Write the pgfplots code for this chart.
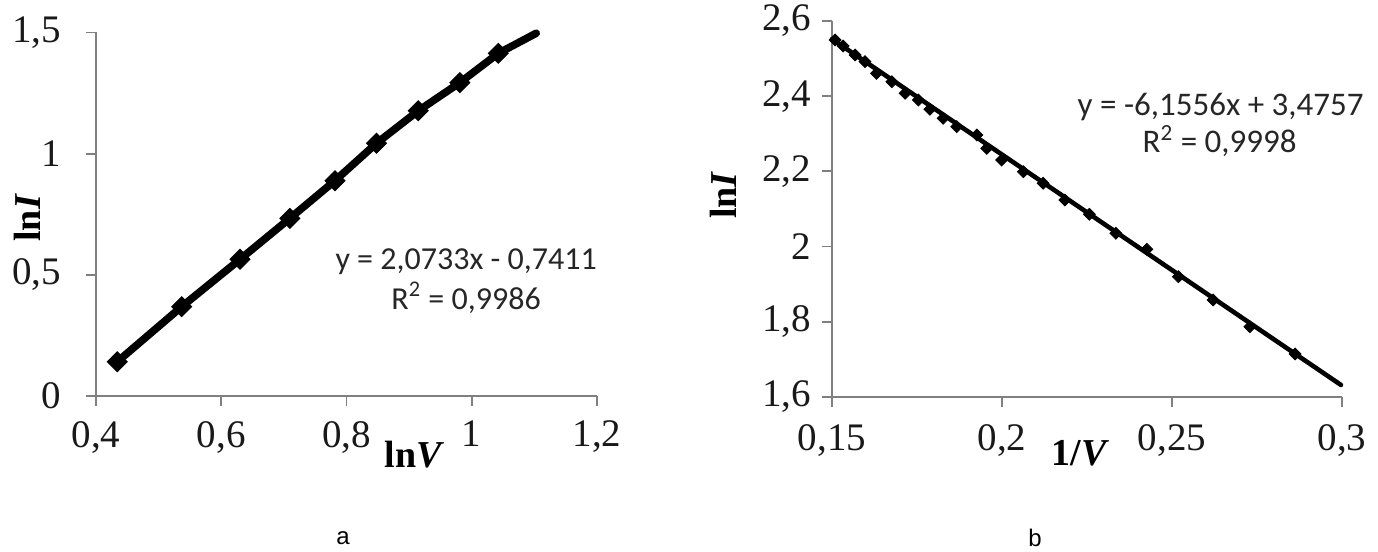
\documentclass[border=0pt]{standalone}
\usepackage{fontspec}
\setmainfont{Liberation Serif}
\newfontfamily\eqfont{Carlito}
\newfontfamily\capfont{Liberation Sans}
\usepackage{pgfplots}
\pgfplotsset{compat=1.18}
\begin{document}
\begin{tikzpicture}
\useasboundingbox (0,0) rectangle (689pt,276pt);
\pgfplotsset{
  myax/.style={
    scale only axis, axis lines*=left,
    axis line style={draw=gray, line width=1pt},
    tick align=outside, major tick length=5pt,
    tick style={draw=gray, line width=0.9pt},
    /pgf/number format/assume math mode=true,
    tick label style={font=\fontsize{19.5}{22}\selectfont, text=black!90},
    label style={font=\fontsize{19}{22}\selectfont\bfseries},
    clip=false,
  }
}
% ---------- panel a ----------
\begin{axis}[myax,
  at={(48pt,78pt)}, anchor=south west,
  width=250.5pt, height=181.75pt,
  xmin=0.4, xmax=1.2, ymin=0, ymax=1.5,
  xtick={0.4,0.6,0.8,1,1.2}, xticklabels={{0,4},{0,6},{0,8},{1},{1,2}},
  ytick={0,0.5,1,1.5}, yticklabels={{0},{0,5},{1},{1,5}},
  xticklabel style={yshift=-4pt},
  yticklabel style={xshift=-9pt},
  xlabel={ln\textit{V}}, ylabel={ln\textit{I}},
  x label style={at={(axis description cs:0.636,0)}, anchor=center, yshift=-29.5pt},
  y label style={at={(axis description cs:-0.1377,0.49)}, anchor=center},
]
\addplot[black, line width=3.8pt, mark=square*, mark size=3.5pt,
  mark options={rotate=45, fill=black, draw=black, line width=0.5pt}]
  coordinates {(0.434,0.1415) (0.5368,0.3685) (0.630,0.564) (0.7095,0.733)
   (0.7816,0.8885) (0.848,1.043) (0.9147,1.177) (0.981,1.293) (1.0424,1.414)};
\addplot[black, line width=3.8pt, line cap=round] coordinates {(1.0424,1.414) (1.103,1.497)};
\node[font=\eqfont\fontsize{16}{18}\selectfont, text=black!85] at (axis cs:0.991,0.553) {y = 2,0733x - 0,7411};
\node[font=\eqfont\fontsize{16}{18}\selectfont, text=black!85] at (axis cs:0.991,0.406) {R\textsuperscript{2} = 0,9986};
\end{axis}
% ---------- panel b ----------
\begin{axis}[myax,
  at={(416pt,77.5pt)}, anchor=south west,
  width=255pt, height=188pt,
  xmin=0.15, xmax=0.3, ymin=1.6, ymax=2.6,
  xtick={0.15,0.2,0.25,0.3}, xticklabels={{0,15},{0,2},{0,25},{0,3}},
  ytick={1.6,1.8,2,2.2,2.4,2.6}, yticklabels={{1,6},{1,8},{2},{2,2},{2,4},{2,6}},
  xticklabel style={yshift=-5pt},
  yticklabel style={xshift=-2pt},
  xlabel={1/\textit{V}}, ylabel={ln\textit{I}},
  x label style={at={(axis description cs:0.487,0)}, anchor=center, yshift=-28pt},
  y label style={at={(axis description cs:-0.2137,0.537)}, anchor=center},
]
\addplot[only marks, mark=square*, mark size=2.1pt,
  mark options={rotate=45, fill=black, draw=black}]
  coordinates {(0.1509,2.5495) (0.1533,2.5335) (0.1568,2.5096) (0.1597,2.4918)
   (0.1631,2.4609) (0.1676,2.4386) (0.1715,2.4077) (0.1754,2.3899)
   (0.1788,2.3652) (0.1827,2.3412) (0.1867,2.3189) (0.1926,2.2968)
   (0.1955,2.2614) (0.1999,2.2303) (0.2063,2.1992) (0.2121,2.1684)
   (0.2185,2.1239) (0.2257,2.0859) (0.2335,2.0354) (0.2426,1.9928)
   (0.2519,1.9199) (0.2621,1.8580) (0.2729,1.7870) (0.2862,1.7144)};
\addplot[black, line width=2.3pt, line cap=round] coordinates {(0.15,2.552) (0.2997,1.632)};
\node[font=\eqfont\fontsize{16.5}{18}\selectfont, text=black!85] at (axis cs:0.2643,2.371) {y = -6,1556x + 3,4757};
\node[font=\eqfont\fontsize{16.5}{18}\selectfont, text=black!85] at (axis cs:0.2640,2.28) {R\textsuperscript{2} = 0,9998};
\end{axis}
\node[font=\capfont\fontsize{12}{14}\selectfont] at (171.5pt,7pt) {a};
\node[font=\capfont\fontsize{12}{14}\selectfont] at (517.5pt,7pt) {b};
\end{tikzpicture}
\end{document}
